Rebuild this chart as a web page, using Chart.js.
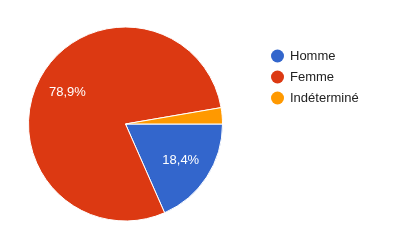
<!DOCTYPE html>
<html>
<head>
<meta charset="utf-8">
<script src="https://cdn.jsdelivr.net/npm/chart.js@4/dist/chart.umd.min.js"></script>
<style>
  html, body { margin: 0; padding: 0; background: #fff; }
  #wrap { width: 400px; height: 244px; position: relative; }
</style>
</head>
<body>
<div id="wrap"><canvas id="pieChart" width="400" height="244"></canvas></div>
<script>
const categories = ['Homme', 'Femme', 'Indéterminé'];
const shares = [18.4, 78.9, 2.7];
const sliceColors = ['#3366CC', '#DC3912', '#FF9900'];

// value labels inside the slices (google-forms style)
const sliceLabels = {
    id: 'sliceLabels',
    afterDatasetsDraw(chart) {
        const ctx = chart.ctx;
        const arcs = chart.getDatasetMeta(0).data;
        ctx.save();
        ctx.font = '13px "Liberation Sans", Arial, sans-serif';
        ctx.fillStyle = '#ffffff';
        ctx.textAlign = 'center';
        ctx.textBaseline = 'middle';
        arcs.forEach((arc, i) => {
            if (shares[i] < 5) return;
            const mid = (arc.startAngle + arc.endAngle) / 2;
            const r = arc.outerRadius * 0.68;
            const txt = shares[i].toFixed(1).replace('.', ',') + '%';
            ctx.fillText(txt, arc.x + Math.cos(mid) * r, arc.y + Math.sin(mid) * r);
        });
        ctx.restore();
    }
};

// legend on the right, round markers
const sideLegend = {
    id: 'sideLegend',
    afterDraw(chart) {
        const ctx = chart.ctx;
        ctx.save();
        ctx.font = '13px "Liberation Sans", Arial, sans-serif';
        ctx.textBaseline = 'middle';
        categories.forEach((name, i) => {
            const y = 56 + i * 21;
            ctx.beginPath();
            ctx.arc(277.5, y, 6.5, 0, Math.PI * 2);
            ctx.fillStyle = sliceColors[i];
            ctx.fill();
            ctx.fillStyle = '#222222';
            ctx.fillText(name, 290, y);
        });
        ctx.restore();
    }
};

const ctx = document.getElementById('pieChart').getContext('2d');
new Chart(ctx, {
    type: 'pie',
    data: {
        labels: categories,
        datasets: [{
            data: shares,
            backgroundColor: sliceColors,
            borderColor: '#ffffff',
            borderWidth: 1
        }]
    },
    options: {
        responsive: false,
        animation: false,
        rotation: 90,
        layout: { padding: { left: 28, right: 177, top: 26, bottom: 22 } },
        plugins: {
            legend: { display: false },
            tooltip: { enabled: false }
        }
    },
    plugins: [sliceLabels, sideLegend]
});
</script>
</body>
</html>
